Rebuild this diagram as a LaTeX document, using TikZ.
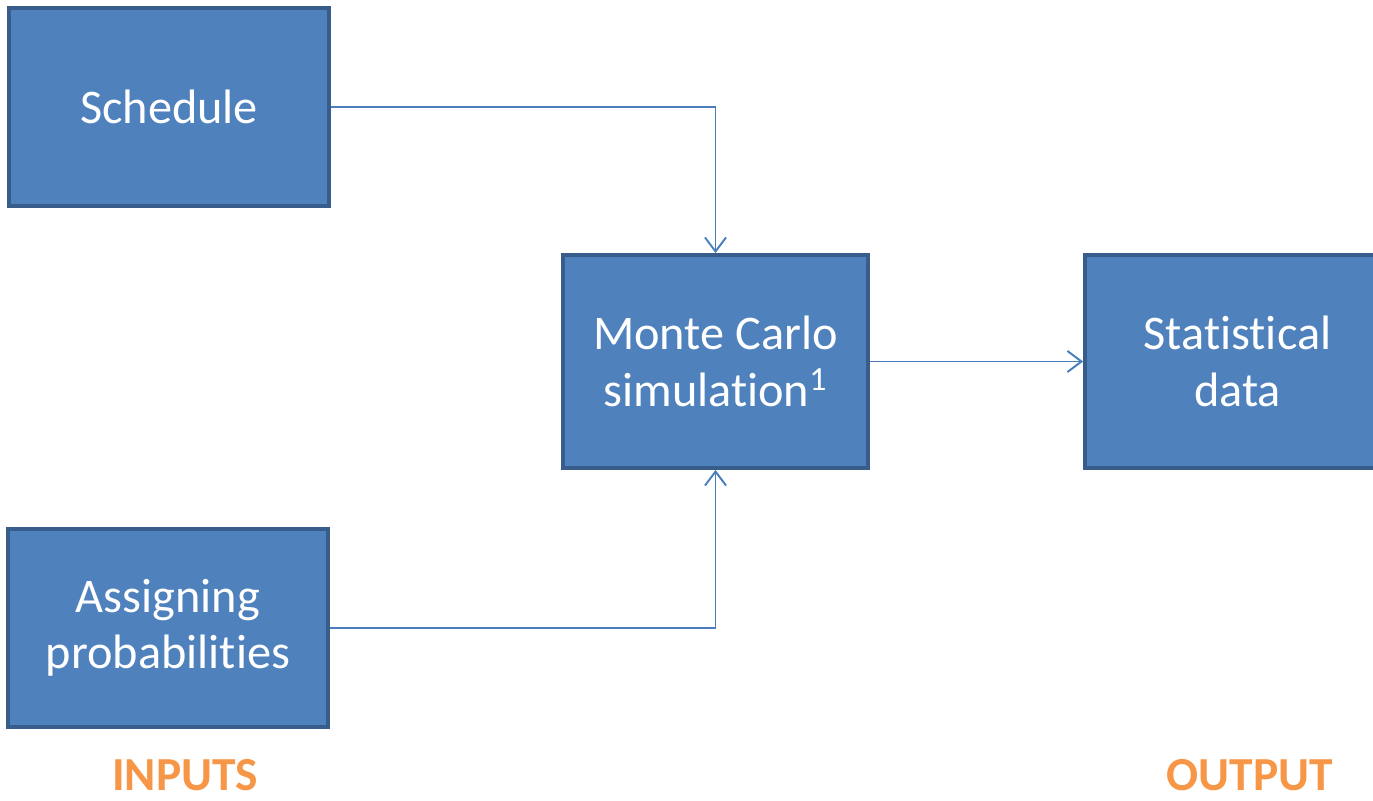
\documentclass[tikz,border=0pt]{standalone}
\usepackage{fontspec}
\setmainfont[Ligatures=NoCommon]{Carlito}
\usetikzlibrary{arrows.meta}

\definecolor{boxfill}{HTML}{4F81BD}
\definecolor{boxline}{HTML}{385D8A}
\definecolor{linkcol}{HTML}{4A7EBB}
\definecolor{tagcol}{HTML}{F79646}

\begin{document}
\begin{tikzpicture}[
    x=0.02cm, y=-0.02cm,
    block/.style={
        draw=boxline, fill=boxfill, line width=2.2pt, rectangle,
        text=white, align=center, inner sep=0pt,
        font=\fontsize{27.5}{32}\selectfont
    },
    inbox/.style={
        block, minimum width=6.4cm, minimum height=3.96cm
    },
    midbox/.style={
        block, minimum width=6.1cm, minimum height=4.26cm
    },
    link/.style={
        draw=linkcol, line width=1.1pt,
        -{Straight Barb[length=8pt, width=12pt, line width=1.1pt]}
    },
    tag/.style={
        text=tagcol, font=\fontsize{27}{32}\selectfont\bfseries,
        anchor=base, inner sep=0pt, text depth=0pt
    }
]
    \useasboundingbox (0,0) rectangle (1373,801);

    \node[inbox](sched) at (169,107) {Schedule};
    \node[inbox](assign) at (168,628) {Assigning\\probabilities};
    \node[midbox](mc) at (715.5,361.5) {Monte Carlo\\simulation\textsuperscript{1}};
    \node[midbox](stat) at (1237.5,361.5) {Statistical\\data};

    \draw[link] (sched.east) -| (mc.north);
    \draw[link] (assign.east) -| (mc.south);
    \draw[link] (mc) -- (stat);

    \node[tag](inputs) at (185,790) {INPUTS};
    \node[tag](output) at (1250,790) {OUTPUT};

\end{tikzpicture}
\end{document}
